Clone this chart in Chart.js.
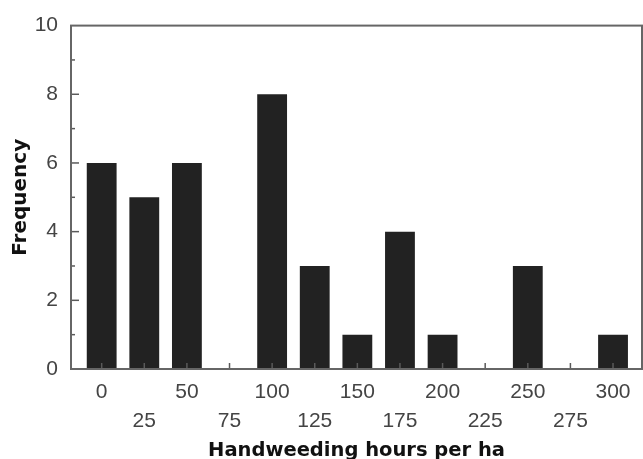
<!DOCTYPE html>
<html>
<head>
<meta charset="utf-8">
<script src="https://cdn.jsdelivr.net/npm/chart.js@4/dist/chart.umd.min.js"></script>
<style>
  html, body { margin: 0; padding: 0; background: #fff; }
  #wrap { width: 643px; height: 459px; }
</style>
</head>
<body>
<div id="wrap"><canvas id="chart"></canvas></div>
<script>
// Data
const hours = [0, 25, 50, 75, 100, 125, 150, 175, 200, 225, 250, 275, 300];
const frequency = [6, 5, 6, 0, 8, 3, 1, 4, 1, 0, 3, 0, 1];
const yMax = 10;

// Ramecek a vnitrni ticky
const frame = {
  id: 'frame',
  afterDatasetsDraw(chart) {
    const { ctx, chartArea: a, scales: { x, y } } = chart;
    const line = (x1, y1, x2, y2) => {
      ctx.beginPath(); ctx.moveTo(x1, y1); ctx.lineTo(x2, y2); ctx.stroke();
    };
    ctx.save();
    ctx.strokeStyle = '#5a5a5a';
    ctx.lineWidth = 1.5;
    y.ticks.forEach(t => {
      if (t.value === 0 || t.value === yMax) return;
      const py = y.getPixelForValue(t.value);
      line(a.left, py, a.left + (t.value % 2 ? 4 : 8), py);
    });
    x.ticks.forEach(t => {
      const px = x.getPixelForValue(t.value);
      line(px, a.bottom, px, a.bottom - 6);
    });
    ctx.lineWidth = 2;
    ctx.strokeStyle = '#666';
    ctx.strokeRect(a.left, a.top, a.right - a.left, a.bottom - a.top);
    ctx.restore();
  }
};

new Chart(document.getElementById('chart'), {
  type: 'bar',
  data: {
    datasets: [{
      data: hours.map((h, i) => ({ x: h, y: frequency[i] })),
      backgroundColor: '#222',
      borderWidth: 0,
      categoryPercentage: 1,
      barPercentage: 0.7,
    }],
  },
  options: {
    responsive: true,
    maintainAspectRatio: false,
    animation: false,
    layout: { autoPadding: false, padding: { left: 9, top: 20, right: 1, bottom: 0 } },
    plugins: { legend: { display: false }, tooltip: { enabled: false } },
    scales: {
      x: {
        type: 'linear',
        offset: false,
        min: -18,
        max: 317,
        grid: { display: false, drawTicks: false },
        border: { display: false },
        afterBuildTicks: scale => { scale.ticks = hours.map(v => ({ value: v })); },
        afterFit: scale => { scale.height = 90; },
        ticks: {
          autoSkip: false,
          maxRotation: 0,
          padding: 9,
          color: '#444',
          font: { family: 'Liberation Sans', size: 21, lineHeight: 1.38 },
          callback: (v, i) => (i % 2 ? ['', String(v)] : String(v)),
        },
        title: {
          display: true,
          text: 'Handweeding hours per ha',
          color: '#111',
          padding: { top: 0, bottom: -4 },
          font: { family: 'DejaVu Sans', size: 19.5, weight: 'bold' },
        },
      },
      y: {
        min: 0,
        max: yMax,
        grid: { display: false, drawTicks: false },
        border: { display: false },
        afterFit: scale => { scale.width = 62; },
        ticks: {
          stepSize: 1,
          padding: 13,
          color: '#444',
          font: { family: 'Liberation Sans', size: 21 },
          callback: v => (v % 2 ? '' : v),
        },
        title: {
          display: true,
          text: 'Frequency',
          color: '#111',
          padding: 0,
          font: { family: 'DejaVu Sans', size: 20, weight: 'bold' },
        },
      },
    },
  },
  plugins: [frame],
});
</script>
</body>
</html>
